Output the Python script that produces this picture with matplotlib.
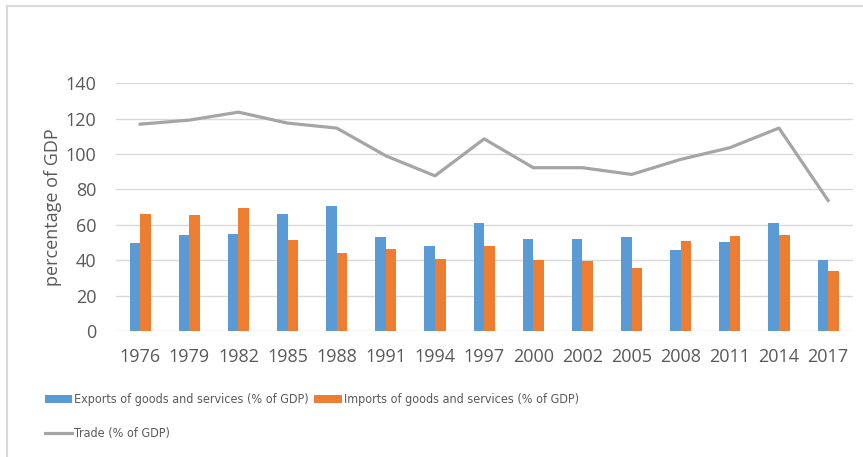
import numpy as np
import matplotlib.pyplot as plt
from matplotlib.lines import Line2D

years = ["1976", "1979", "1982", "1985", "1988", "1991", "1994", "1997",
         "2000", "2002", "2005", "2008", "2011", "2014", "2017"]
exports = [50.0, 54.0, 54.6, 66.0, 70.4, 52.9, 47.8, 60.8,
           51.8, 51.8, 52.9, 45.6, 50.1, 60.8, 39.9]
imports = [65.9, 65.3, 69.3, 51.2, 43.9, 46.1, 40.5, 47.8,
           39.9, 39.4, 35.4, 50.7, 53.5, 54.0, 33.7]
trade = [116.9, 119.2, 123.7, 117.5, 114.7, 99.0, 87.7, 108.6,
         92.3, 92.3, 88.5, 97.0, 103.6, 114.7, 73.8]

blue = "#5b9bd5"
orange = "#ed7d31"
grey = "#a5a5a5"
text_col = "#595959"

fig = plt.figure(figsize=(8.63, 4.57), dpi=100)
ax = fig.add_axes([0.134, 0.2757, 0.854, 0.542])

x = np.arange(len(years))
w = 0.215
b1 = ax.bar(x - w / 2, exports, w, color=blue, zorder=2,
            label="Exports of goods and services (% of GDP)")
b2 = ax.bar(x + w / 2, imports, w, color=orange, zorder=2,
            label="Imports of goods and services (% of GDP)")
l1, = ax.plot(x, trade, color=grey, lw=2.3, zorder=3, label="Trade (% of GDP)")

ax.set_xlim(-0.5, len(years) - 0.5)
ax.set_ylim(0, 140)
ax.set_yticks(range(0, 141, 20))
ax.set_xticks(x)
ax.set_xticklabels(years)
ax.grid(axis="y", color="#d9d9d9", lw=1, zorder=0)
for s in ax.spines.values():
    s.set_visible(False)
ax.tick_params(length=0, labelsize=13, colors=text_col, labelfontfamily="Open Sans")
ax.tick_params(axis="x", pad=12)
ax.tick_params(axis="y", pad=14)
ax.set_ylabel("percentage of GDP", fontsize=13, color=text_col, family="Open Sans")
ax.yaxis.set_label_coords(-0.073, 0.5)

fig.legend([b1, l1, b2], [b1.get_label(), l1.get_label(), b2.get_label()],
           ncol=2, loc="upper left", bbox_to_anchor=(0.046, 0.15),
           frameon=False, handlelength=2.2, handletextpad=0.15,
           columnspacing=0.45, labelspacing=1.65, borderaxespad=0,
           prop={"family": "DejaVu Sans", "stretch": "condensed", "size": 9},
           labelcolor=text_col)

# outer chart border (top and left edges)
fig.add_artist(Line2D([0.0085, 1.0], [0.987, 0.987], transform=fig.transFigure,
                      color="#d9d9d9", lw=1.5))
fig.add_artist(Line2D([0.0085, 0.0085], [0.0, 0.987], transform=fig.transFigure,
                      color="#d9d9d9", lw=1.5))

fig.savefig("out.png", dpi=100)
